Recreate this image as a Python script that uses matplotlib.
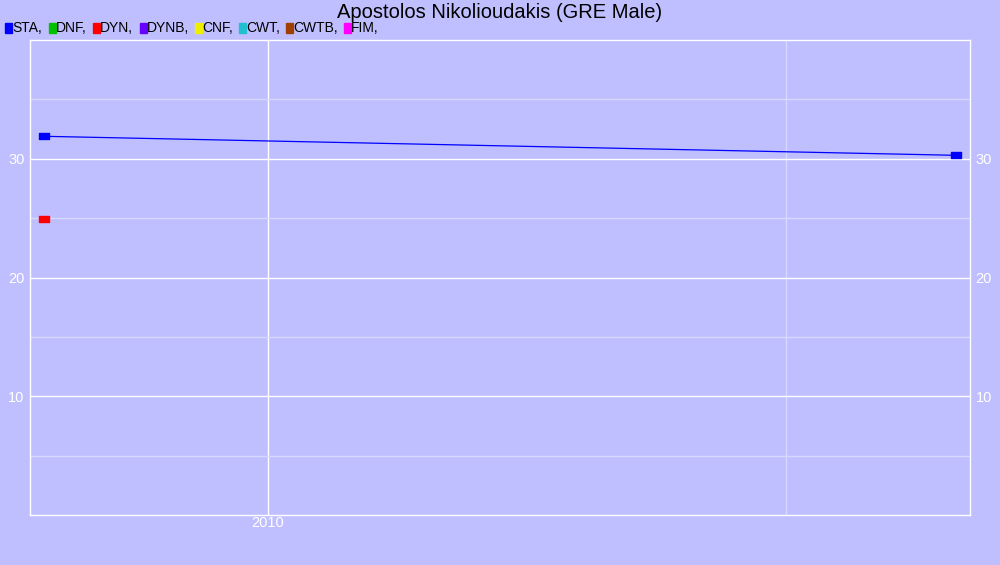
import matplotlib
matplotlib.use("Agg")
import matplotlib.pyplot as plt
from matplotlib.path import Path
from matplotlib.patches import Rectangle

plt.rcParams['font.family'] = ['Liberation Sans', 'DejaVu Sans']

bg = '#bfbfff'

# legend entries
disciplines = ["STA", "DNF", "DYN", "DYNB", "CNF", "CWT", "CWTB", "FIM"]
colors = ["#0000ff", "#00c000", "#ff0000", "#6600ff", "#eeee00", "#20c0d0", "#a04000", "#ff00ff"]
legend_x = [5, 49, 93, 140, 195, 239, 286, 344]

# results (decimal year, value)
sta_years = [2009.784, 2010.664]
sta_vals = [31.89, 30.29]
dyn_years = [2009.784]
dyn_vals = [24.92]

# 2:1 rectangle marker
rect = Path([(-1, -0.5), (1, -0.5), (1, 0.5), (-1, 0.5), (-1, -0.5)],
            [Path.MOVETO, Path.LINETO, Path.LINETO, Path.LINETO, Path.CLOSEPOLY])

fig = plt.figure(figsize=(10, 5.65), dpi=100, facecolor=bg)
ax = fig.add_axes([30/1000, 1 - 515/565, 940/1000, 475/565])
ax.set_facecolor(bg)

ax.plot(sta_years, sta_vals, color=colors[0], lw=0.9, zorder=3)
ax.plot(sta_years, sta_vals, ls='none', marker=rect, ms=7.5, color=colors[0], zorder=4)
ax.plot(dyn_years, dyn_vals, ls='none', marker=rect, ms=7.5, color=colors[2], zorder=4)

ax.set_xlim(2009.770, 2010.678)
ax.set_ylim(0, 40)
ax.set_xticks([2010])
ax.set_xticklabels(["2010"])
ax.set_xticks([2010.5], minor=True)
ax.set_yticks([10, 20, 30])
ax.set_yticks([5, 15, 25, 35], minor=True)
ax.grid(True, which='major', color='white', lw=1)
ax.grid(True, which='minor', color='#d8d8ff', lw=1)
ax.tick_params(which='both', length=0, colors='white', labelsize=10.5, pad=4)
ax.tick_params(axis='y', labelright=True, right=True)
ax.tick_params(axis='x', pad=1)
for s in ax.spines.values():
    s.set_color('white')
    s.set_linewidth(1)

fig.text(0.5, 1 - 13/565, "Apostolos Nikolioudakis (GRE Male)", ha='center', va='center',
         fontsize=14.5, color='black')

for name, c, x in zip(disciplines, colors, legend_x):
    fig.patches.append(Rectangle((x/1000, 1 - 33/565), 7/1000, 10/565,
                                 transform=fig.transFigure, color=c))
    fig.text((x + 7)/1000, 1 - 28/565, name + ",", ha='left', va='center',
             fontsize=10, color='black')

fig.savefig("out.png", dpi=100, facecolor=bg)
